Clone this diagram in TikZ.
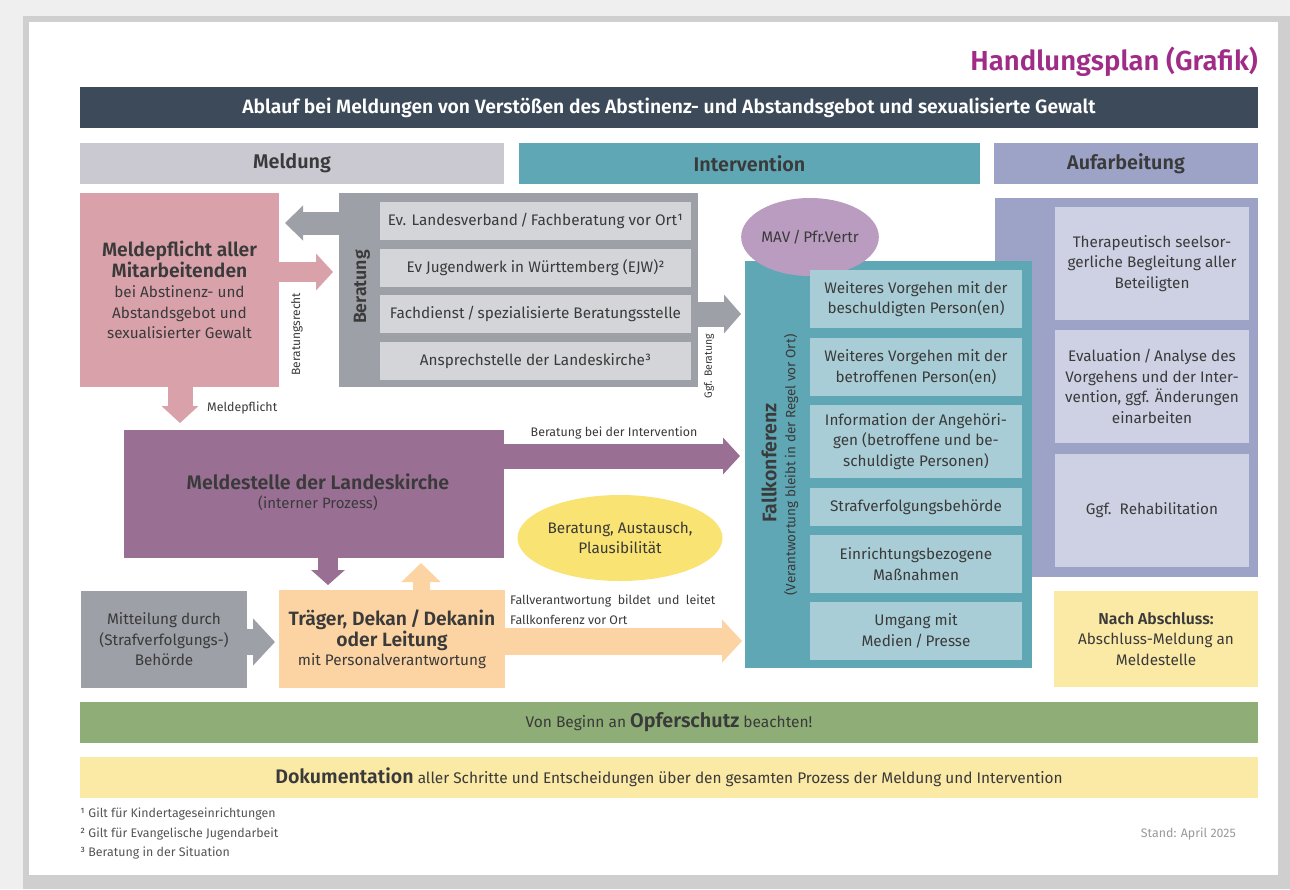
\documentclass[tikz,border=0pt]{standalone}
\usepackage{fontspec}
\setmainfont{Fira Sans}[BoldFont={Fira Sans SemiBold}]
\usetikzlibrary{arrows.meta,shapes.geometric}
\definecolor{bgc}{HTML}{EFEFEF}
\definecolor{shc}{HTML}{CFCFCF}
\definecolor{pinkc}{HTML}{D9A2AB}
\definecolor{greyc}{HTML}{9EA0A7}
\definecolor{greyin}{HTML}{D4D5D9}
\definecolor{tealc}{HTML}{5FA7B4}
\definecolor{tealin}{HTML}{A9CDD6}
\definecolor{lavc}{HTML}{9DA3C6}
\definecolor{lavin}{HTML}{CED1E3}
\definecolor{mavc}{HTML}{BA9CC1}
\definecolor{purc}{HTML}{9A6F94}
\definecolor{orc}{HTML}{FCD4A3}
\definecolor{yelc}{HTML}{F9E372}
\definecolor{yelbox}{HTML}{FBE9A6}
\definecolor{greenc}{HTML}{8FAD77}
\definecolor{hdrc}{HTML}{3C4A5A}
\definecolor{meldh}{HTML}{CAC8D0}
\definecolor{txt}{HTML}{3A3A3A}
\definecolor{titlec}{HTML}{A02C88}
\definecolor{fnc}{HTML}{555555}
\definecolor{standc}{HTML}{9A9A9A}
\newcommand{\fsz}[2]{\fontsize{#1pt}{#2pt}\selectfont}
\newcommand{\bln}[1]{{\bfseries\fsz{19.3}{20.5}#1}}
\begin{document}
\begin{tikzpicture}[x=1pt,y=-1pt,
  box/.style={inner sep=0pt, outer sep=0pt, anchor=north west, align=center, text=txt},
  body/.style={font=\fsz{15.3}{20.5}},
  hdtext/.style={font=\bfseries\fsz{19.8}{20}},
  lbl/.style={font=\fsz{12.4}{19.5}, text=txt, inner sep=0pt},
  barrow/.style n args={4}{draw=#1, line width=#2, -{Triangle[width=#3,length=#4]}}]
\useasboundingbox (0,0) rectangle (1290,889);
% page and frame
\fill[bgc] (0,0) rectangle (1290,889);
\fill[shc] (23,16) rectangle (1290,889);
\fill[white] (29,22) rectangle (1278,875);
% title and headers
\node[anchor=east, inner sep=0pt, font=\bfseries\fsz{27.5}{30}, text=titlec] (title) at (1258,62) {Handlungsplan (Grafik)};
\node[box, fill=hdrc, minimum width=1178pt, minimum height=41pt, text=white, font=\bfseries\fsz{19.3}{20}] (hd) at (80,87) {Ablauf bei Meldungen von Verstößen des Abstinenz- und Abstandsgebot und sexualisierte Gewalt};
\node[box, fill=meldh, minimum width=424pt, minimum height=41pt, hdtext] (hmeld) at (80,143) {Meldung};
\node[box, fill=tealc, minimum width=461pt, minimum height=41pt, hdtext] (hint) at (519,143) {Intervention};
\node[box, fill=lavc, minimum width=264pt, minimum height=41pt, hdtext] (hauf) at (994,143) {Aufarbeitung};
% Meldepflicht
\node[box, fill=pinkc, minimum width=199pt, minimum height=194pt, body] (mp) at (80,193) {\bln{Meldepflicht aller}\\\bln{Mitarbeitenden}\\bei Abstinenz- und\\Abstandsgebot und\\sexualisierter Gewalt};
% Beratung
\node[box, fill=greyc, minimum width=359pt, minimum height=194pt] (ber) at (339,193) {};
\node[rotate=90, inner sep=0pt, font=\bfseries\fsz{17.8}{20}, text=txt] (berl) at (362,287) {Beratung};
\node[box, fill=greyin, minimum width=311pt, minimum height=38pt, body] (b1) at (380,202) {Ev. Landesverband\,/\,Fachberatung vor Ort¹};
\node[box, fill=greyin, minimum width=311pt, minimum height=38pt, body] (b2) at (380,249) {Ev Jugendwerk in Württemberg (EJW)²};
\node[box, fill=greyin, minimum width=311pt, minimum height=38pt, body] (b3) at (380,295) {Fachdienst\,/\,spezialisierte Beratungsstelle};
\node[box, fill=greyin, minimum width=311pt, minimum height=38pt, body] (b4) at (380,342) {Ansprechstelle der Landeskirche³};
% Aufarbeitung
\node[box, fill=lavc, minimum width=263pt, minimum height=379pt] (auf) at (995,198) {};
\node[box, fill=lavin, minimum width=194pt, minimum height=113pt, body] (a1) at (1055,207) {Therapeutisch seelsor-\\gerliche Begleitung aller\\Beteiligten};
\node[box, fill=lavin, minimum width=194pt, minimum height=113pt, body] (a2) at (1055,330) {Evaluation\,/\,Analyse des\\Vorgehens und der Inter-\\vention, ggf. Änderungen\\einarbeiten};
\node[box, fill=lavin, minimum width=194pt, minimum height=113pt, body] (a3) at (1055,454) {Ggf.\ \ Rehabilitation};
\node[box, fill=yelbox, minimum width=204pt, minimum height=96pt, body] (nach) at (1054,591) {{\bfseries\fsz{15.8}{20.5}Nach Abschluss:}\\Abschluss-Meldung an\\Meldestelle};
% Fallkonferenz
\node[box, fill=tealc, minimum width=287pt, minimum height=407pt] (fk) at (745,261) {};
\node[ellipse, fill=mavc, minimum width=134pt, minimum height=78pt, inner sep=0pt, body, text=txt] (mav) at (810,237) {MAV\,/\,Pfr.Vertr};
\node[rotate=90, inner sep=0pt, font=\bfseries\fsz{19.6}{20}, text=txt] (fkl) at (769,463) {Fallkonferenz};
\node[rotate=90, inner sep=0pt, font=\fsz{13.5}{16}, text=txt] (fkl2) at (791,465) {(Verantwortung bleibt in der Regel vor Ort)};
\node[box, fill=tealin, minimum width=212pt, minimum height=58pt, body] (f1) at (810,270) {Weiteres Vorgehen mit der\\beschuldigten Person(en)};
\node[box, fill=tealin, minimum width=212pt, minimum height=58pt, body] (f2) at (810,338) {Weiteres Vorgehen mit der\\betroffenen Person(en)};
\node[box, fill=tealin, minimum width=212pt, minimum height=73pt, body] (f3) at (810,405) {Information der Angehöri-\\gen (betroffene und be-\\schuldigte Personen)};
\node[box, fill=tealin, minimum width=212pt, minimum height=38pt, body] (f4) at (810,488) {Strafverfolgungsbehörde};
\node[box, fill=tealin, minimum width=212pt, minimum height=58pt, body] (f5) at (810,535) {Einrichtungsbezogene\\Maßnahmen};
\node[box, fill=tealin, minimum width=212pt, minimum height=58pt, body] (f6) at (810,602) {Umgang mit\\Medien\,/\,Presse};
% Meldestelle, Träger, Mitteilung
\node[box, fill=purc, minimum width=380pt, minimum height=128pt] (ms) at (124,430) {};
\node[inner sep=0pt, align=center, text=txt, font=\bfseries\fsz{19.6}{21}] (msl) at (318,482) {Meldestelle der Landeskirche};
\node[inner sep=0pt, align=center, text=txt, font=\fsz{15}{16}] (msl2) at (318,503) {(interner Prozess)};
\node[box, fill=orc, minimum width=226pt, minimum height=98pt, font=\fsz{15.3}{19}] (tr) at (279,590) {\bln{Träger, Dekan\,/\,Dekanin}\\\bln{oder Leitung}\\mit Personalverantwortung};
\node[box, fill=greyc, minimum width=166pt, minimum height=97pt, body] (mit) at (81,591) {Mitteilung durch\\(Strafverfolgungs-)\\Behörde};
\node[ellipse, fill=yelc, minimum width=196pt, minimum height=86pt, inner sep=0pt, align=center, body, text=txt] (yel) at (620,538) {Beratung, Austausch,\\Plausibilität};
% helper coordinates
\coordinate (xa) at (180,0);
\coordinate (xb) at (328,0);
\coordinate (xc) at (421,0);
% arrows
\draw[barrow={greyc}{23pt}{34pt}{18pt}, shorten >=6pt] (ber.west |- 0,223) -- (mp.east |- 0,223);
\draw[barrow={pinkc}{20pt}{36pt}{17pt}, shorten >=6pt] (mp.east |- 0,272) -- (ber.west |- 0,272);
\draw[barrow={pinkc}{25pt}{36pt}{17pt}, shorten >=7pt] (xa |- mp.south) -- (xa |- ms.north);
\draw[barrow={greyc}{25pt}{38pt}{17pt}, shorten >=4pt] (ber.east |- 0,314) -- (fk.west |- 0,314);
\draw[barrow={purc}{25pt}{36pt}{17pt}, shorten >=5pt] (ms.east |- 0,456) -- (fk.west |- 0,456);
\draw[barrow={purc}{20pt}{33pt}{15pt}, shorten >=5pt] (xb |- ms.south) -- (xb |- tr.north);
\draw[barrow={orc}{17pt}{38pt}{19pt}, shorten >=5pt] (xc |- tr.north) -- (xc |- ms.south);
\draw[barrow={greyc}{26pt}{46pt}{22pt}, shorten >=4pt] (mit.east |- 0,642) -- (tr.west |- 0,642);
\draw[barrow={orc}{27pt}{42pt}{20pt}, shorten >=3pt] (tr.east |- 0,641) -- (fk.west |- 0,641);
% arrow labels
\node[rotate=90, lbl, font=\fsz{12}{12}] (brr) at (297,334) {Beratungsrecht};
\node[rotate=90, lbl, font=\fsz{10.5}{12}] (ggf) at (709,366) {Ggf. Beratung};
\node[lbl, anchor=west] (mpl) at (207,408) {Meldepflicht};
\node[lbl] (bdi) at (614,433) {Beratung bei der Intervention};
\node[lbl, anchor=north west, align=left] (fvl) at (510,595) {Fallverantwortung\ \ bildet\ \ und\ \ leitet\\Fallkonferenz vor Ort};
% bottom bars
\node[box, fill=greenc, minimum width=1178pt, minimum height=41pt, font=\fsz{15.5}{18}] (opf) at (80,702) {Von Beginn an {\bfseries\fsz{19.8}{18}Opferschutz} beachten!};
\node[box, fill=yelbox, minimum width=1178pt, minimum height=41pt, font=\fsz{15.4}{18}] (dok) at (80,757) {{\bfseries\fsz{19.6}{18}Dokumentation} aller Schritte und Entscheidungen über den gesamten Prozess der Meldung und Intervention};
% footnotes
\node[anchor=west, inner sep=0pt, text=fnc, font=\fsz{12.4}{12}] (fn1) at (80,814) {¹ Gilt für Kindertageseinrichtungen};
\node[anchor=west, inner sep=0pt, text=fnc, font=\fsz{12.4}{12}] (fn2) at (80,834) {² Gilt für Evangelische Jugendarbeit};
\node[anchor=west, inner sep=0pt, text=fnc, font=\fsz{12.4}{12}] (fn3) at (80,853) {³ Beratung in der Situation};
\node[anchor=east, inner sep=0pt, text=standc, font=\fsz{12.4}{12}] (stand) at (1236,834) {Stand: April 2025};
\end{tikzpicture}
\end{document}
